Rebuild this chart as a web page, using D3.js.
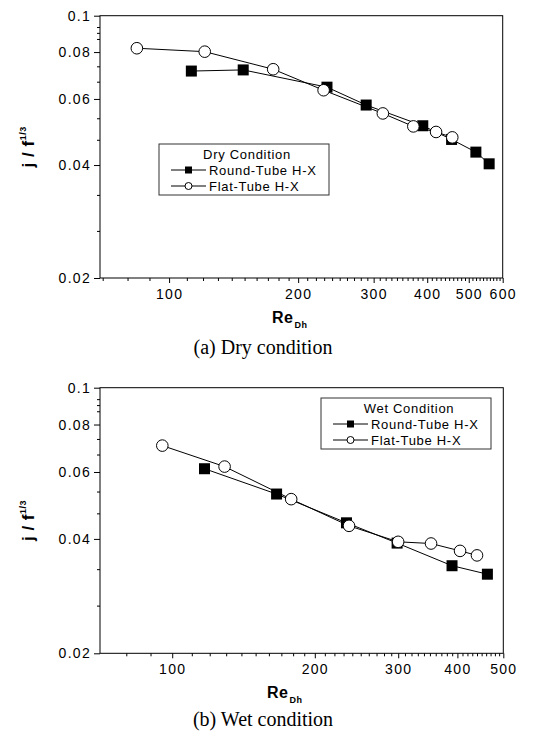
<html lang="en">
<head>
<meta charset="UTF-8">
<title>j / f^1/3 vs Re_Dh</title>
<style>
  body { margin: 0; background: #fff; }
  svg { display: block; }
  .frame { fill: none; stroke: #000; stroke-width: 1px; }
  .tick line { stroke: #000; }
  .domain { display: none; }
  .tick text { font-family: "Liberation Sans", Arial, sans-serif; font-size: 14px; letter-spacing: 1.3px; fill: #000; }
  .link { fill: none; stroke: #000; stroke-width: 1px; }
  .ylab, .xlab { font-family: "Liberation Sans", Arial, sans-serif; font-weight: bold; fill: #000; }
  .cap { font-family: "Liberation Serif", "Times New Roman", serif; font-size: 20px; fill: #000; }
  .leg text { font-family: "Liberation Sans", Arial, sans-serif; font-size: 13px; letter-spacing: 0.7px; fill: #000; }
</style>
</head>
<body>
<svg width="545" height="742"></svg>
<script src="https://cdn.jsdelivr.net/npm/d3@7"></script>
<script>
(function () {
  'use strict';

  // dry condition
  var dryRoundRe = [112.7, 148.9, 233.5, 288.2, 390.6, 456, 519.5, 557.9];
  var dryRoundJf = [0.0712, 0.0717, 0.0645, 0.0578, 0.0509, 0.0468, 0.0433, 0.0403];
  var dryFlatRe = [84.1, 121.1, 174.9, 229.3, 315.2, 371.3, 419.5, 457.6];
  var dryFlatJf = [0.0819, 0.0802, 0.0720, 0.0633, 0.0549, 0.0507, 0.0490, 0.0474];

  // wet condition
  var wetRoundRe = [117.0, 166.1, 233.3, 298.4, 389.7, 462.8];
  var wetRoundJf = [0.0612, 0.0525, 0.0441, 0.0390, 0.0340, 0.0323];
  var wetFlatRe = [95.3, 129, 178.3, 236.2, 299.9, 351.9, 405.2, 440];
  var wetFlatJf = [0.0704, 0.0620, 0.0509, 0.0433, 0.0393, 0.0389, 0.0372, 0.0362];

  var yMajor = [0.02, 0.04, 0.06, 0.08, 0.1];
  var yMinor = [0.0267, 0.0333, 0.0467, 0.0533, 0.0667, 0.0733, 0.0867, 0.09, 0.0933];
  var dryXMajor = [100, 200, 300, 400, 500, 600];
  var wetXMajor = [100, 200, 300, 400, 500];

  var seriesNames = ["Round-Tube H-X", "Flat-Tube H-X"];

  var svg = d3.select("svg");

  function pairs(xs, ys) {
    return xs.map(function (x, i) { return [x, ys[i]]; });
  }

  function panel(o) {
    var W = o.right - o.left, H = o.bottom - o.top;
    var g = svg.append("g").attr("transform", "translate(" + o.left + "," + o.top + ")");

    var x = d3.scaleLog().domain(o.xDomain).range([0, W]);
    var y = d3.scaleLog().domain([0.02, 0.1]).range([H, 0]);

    var xMinor = d3.range(70, o.xDomain[1] + 1, 10).filter(function (v) {
      return o.xMajor.indexOf(v) < 0 && v >= o.xDomain[0];
    });

    // minor ticks
    g.append("g").attr("transform", "translate(0," + H + ")")
      .call(d3.axisBottom(x).tickValues(xMinor).tickSize(3).tickFormat(""));
    g.append("g")
      .call(d3.axisLeft(y).tickValues(yMinor).tickSize(3).tickFormat(""));

    // major ticks
    g.append("g").attr("transform", "translate(0," + H + ")")
      .call(d3.axisBottom(x).tickValues(o.xMajor).tickSize(5).tickPadding(6).tickFormat(d3.format("d")));
    g.append("g")
      .call(d3.axisLeft(y).tickValues(yMajor).tickSize(6).tickPadding(3).tickFormat(function (d) { return d === 0.1 ? "0.1" : d3.format(".2f")(d); }));

    g.append("rect").attr("class", "frame").attr("width", W).attr("height", H);

    var line = d3.line().x(function (d) { return x(d[0]); }).y(function (d) { return y(d[1]); });

    var rnd = pairs(o.roundRe, o.roundJf);
    var flt = pairs(o.flatRe, o.flatJf);

    g.append("path").datum(rnd).attr("class", "link").attr("d", line);
    g.selectAll(".sq").data(rnd).enter().append("rect")
      .attr("class", "sq")
      .attr("x", function (d) { return x(d[0]) - 5.5; })
      .attr("y", function (d) { return y(d[1]) - 5.5; })
      .attr("width", 11).attr("height", 11)
      .attr("fill", "#000");

    g.append("path").datum(flt).attr("class", "link").attr("d", line);
    g.selectAll(".ci").data(flt).enter().append("circle")
      .attr("class", "ci")
      .attr("cx", function (d) { return x(d[0]); })
      .attr("cy", function (d) { return y(d[1]); })
      .attr("r", 5.8)
      .attr("fill", "#fff").attr("stroke", "#000").attr("stroke-width", 1);

    // y label
    var yl = svg.append("text").attr("class", "ylab")
      .attr("transform", "translate(34," + (o.top + H / 2) + ") rotate(-90)")
      .attr("text-anchor", "middle").attr("font-size", 17).attr("letter-spacing", 0.5);
    yl.append("tspan").text("j / f");
    yl.append("tspan").attr("font-size", 9).attr("dy", -8).text("1/3");

    // x label
    var xl = svg.append("text").attr("class", "xlab")
      .attr("x", o.reX).attr("y", o.reY).attr("font-size", 16).attr("letter-spacing", 0.5);
    xl.append("tspan").text("Re");
    xl.append("tspan").attr("font-size", 9).attr("dy", 5).attr("dx", 1).text("Dh");

    svg.append("text").attr("class", "cap")
      .attr("x", 263).attr("y", o.capY).attr("text-anchor", "middle").text(o.caption);

    // legend
    var lg = svg.append("g").attr("class", "leg").attr("transform", "translate(" + o.leg[0] + "," + o.leg[1] + ")");
    lg.append("rect").attr("width", 170).attr("height", 51)
      .attr("fill", "#fff").attr("stroke", "#333").attr("stroke-width", 1);
    lg.append("text").attr("x", 88).attr("y", 15).attr("text-anchor", "middle").text(o.title);
    seriesNames.forEach(function (name, i) {
      var ry = 26 + i * 16;
      lg.append("line").attr("x1", 12).attr("x2", 47).attr("y1", ry).attr("y2", ry).attr("stroke", "#000");
      if (i === 0) {
        lg.append("rect").attr("x", 26).attr("y", ry - 3.5).attr("width", 7).attr("height", 7).attr("fill", "#000");
      } else {
        lg.append("circle").attr("cx", 29.5).attr("cy", ry).attr("r", 3.5).attr("fill", "#fff").attr("stroke", "#000");
      }
      lg.append("text").attr("x", 50).attr("y", ry + 4.5).text(name);
    });
  }

  panel({
    left: 100, top: 15.7, right: 502.7, bottom: 278,
    xDomain: [69, 600], xMajor: dryXMajor,
    roundRe: dryRoundRe, roundJf: dryRoundJf, flatRe: dryFlatRe, flatJf: dryFlatJf,
    reX: 272, reY: 323, capY: 354, caption: "(a) Dry condition",
    leg: [159, 144], title: "Dry Condition"
  });

  panel({
    left: 100, top: 387.7, right: 503.3, bottom: 653.3,
    xDomain: [70.4, 500], xMajor: wetXMajor,
    roundRe: wetRoundRe, roundJf: wetRoundJf, flatRe: wetFlatRe, flatJf: wetFlatJf,
    reX: 267, reY: 698, capY: 726, caption: "(b) Wet condition",
    leg: [321, 398], title: "Wet Condition"
  });
})();
</script>
</body>
</html>
